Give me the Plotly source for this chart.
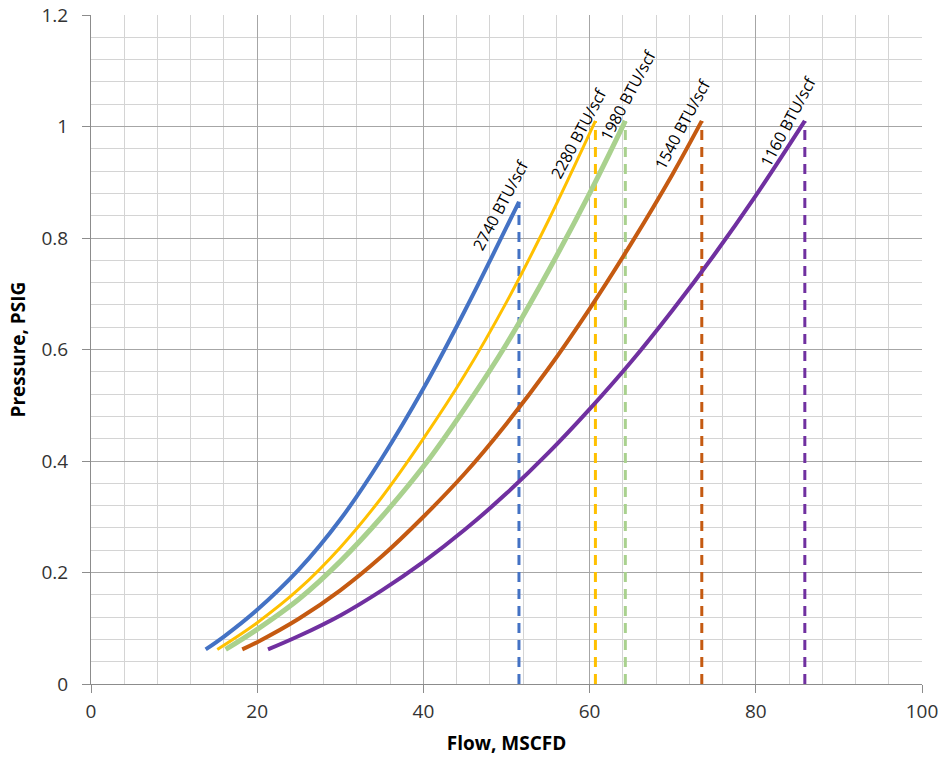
import plotly.graph_objects as go

# Data
flow_2740 = [13.8, 16, 20, 25, 30, 35, 40, 45, 51.5]
pres_2740 = [0.062, 0.085, 0.133, 0.205, 0.295, 0.405, 0.53, 0.67, 0.865]

flow_2280 = [15.2, 20, 25, 30, 35, 40, 45, 50, 55, 60.7]
pres_2280 = [0.062, 0.11, 0.17, 0.245, 0.335, 0.44, 0.555, 0.685, 0.83, 1.01]

flow_1980 = [16.2, 20, 25, 30, 35, 40, 45, 50, 55, 60, 64.3]
pres_1980 = [0.062, 0.098, 0.152, 0.22, 0.30, 0.39, 0.495, 0.61, 0.74, 0.88, 1.01]

flow_1540 = [18.2, 20, 25, 30, 35, 40, 45, 50, 55, 60, 65, 70, 73.5]
pres_1540 = [0.062, 0.075, 0.117, 0.168, 0.229, 0.30, 0.378, 0.467, 0.565, 0.673, 0.79, 0.915, 1.01]

flow_1160 = [21.3, 25, 30, 35, 40, 45, 50, 55, 60, 65, 70, 75, 80, 85.9]
pres_1160 = [0.062, 0.086, 0.123, 0.168, 0.219, 0.277, 0.342, 0.414, 0.493, 0.578, 0.671, 0.77, 0.876, 1.01]

labels = ["2740 BTU/scf", "2280 BTU/scf", "1980 BTU/scf", "1540 BTU/scf", "1160 BTU/scf"]
label_x = [49.3, 58.7, 64.6, 71.2, 83.9]
label_y = [0.859, 0.988, 1.057, 1.004, 1.01]

x_title = "Flow, MSCFD"
y_title = "Pressure, PSIG"

series = [
    (flow_2740, pres_2740, "#4472C4", 4),
    (flow_2280, pres_2280, "#FFC000", 3),
    (flow_1980, pres_1980, "#A9D18E", 5),
    (flow_1540, pres_1540, "#C55A11", 4),
    (flow_1160, pres_1160, "#7030A0", 4),
]

FONT = "Open Sans"
fig = go.Figure()

for fl, pr, col, w in series:
    fig.add_trace(go.Scatter(x=fl, y=pr, mode="lines",
                             line=dict(color=col, width=w, shape="spline"),
                             showlegend=False, hoverinfo="skip"))
    fig.add_trace(go.Scatter(x=[fl[-1], fl[-1]], y=[0, pr[-1]], mode="lines",
                             line=dict(color=col, width=3, dash="10px,7px"),
                             showlegend=False, hoverinfo="skip"))

for txt, lx, ly in zip(labels, label_x, label_y):
    fig.add_annotation(x=lx, y=ly, xref="x", yref="y", text=txt, showarrow=False,
                       textangle=-62, font=dict(family=FONT, size=16, color="#000000"),
                       xanchor="center", yanchor="middle")

# y-axis title placed precisely
fig.add_annotation(x=0, y=0.5, xref="paper", yref="paper", xshift=-74,
                   text="<b>" + y_title + "</b>", showarrow=False, textangle=-90,
                   font=dict(family=FONT, size=19, color="#000000"),
                   xanchor="center", yanchor="middle")

axis_common = dict(
    showline=True, linecolor="#8c8c8c", linewidth=1,
    gridcolor="#a6a6a6", gridwidth=1,
    ticks="outside", ticklen=8, tickcolor="#8c8c8c",
    tickfont=dict(family=FONT, size=19, color="#333333"),
    zeroline=False, automargin=False,
)

fig.update_xaxes(range=[0, 100], dtick=20, ticklabelstandoff=2,
                 minor=dict(dtick=4, showgrid=True, gridcolor="#d4d4d4", gridwidth=1),
                 title=dict(text="<b>" + x_title + "</b>", font=dict(family=FONT, size=19, color="#000000"), standoff=13),
                 **axis_common)
fig.update_yaxes(range=[0, 1.2], dtick=0.2, tickformat="~g", ticklabelstandoff=10,
                 minor=dict(dtick=0.04, showgrid=True, gridcolor="#d4d4d4", gridwidth=1),
                 **axis_common)

fig.update_layout(
    width=944, height=765,
    margin=dict(l=91, r=22, t=15, b=81, autoexpand=False),
    plot_bgcolor="white", paper_bgcolor="white",
    font=dict(family=FONT),
)

fig.write_html("out.html", config={"displayModeBar": False},
               post_script="document.body.style.margin='0';document.body.style.overflow='hidden';")
